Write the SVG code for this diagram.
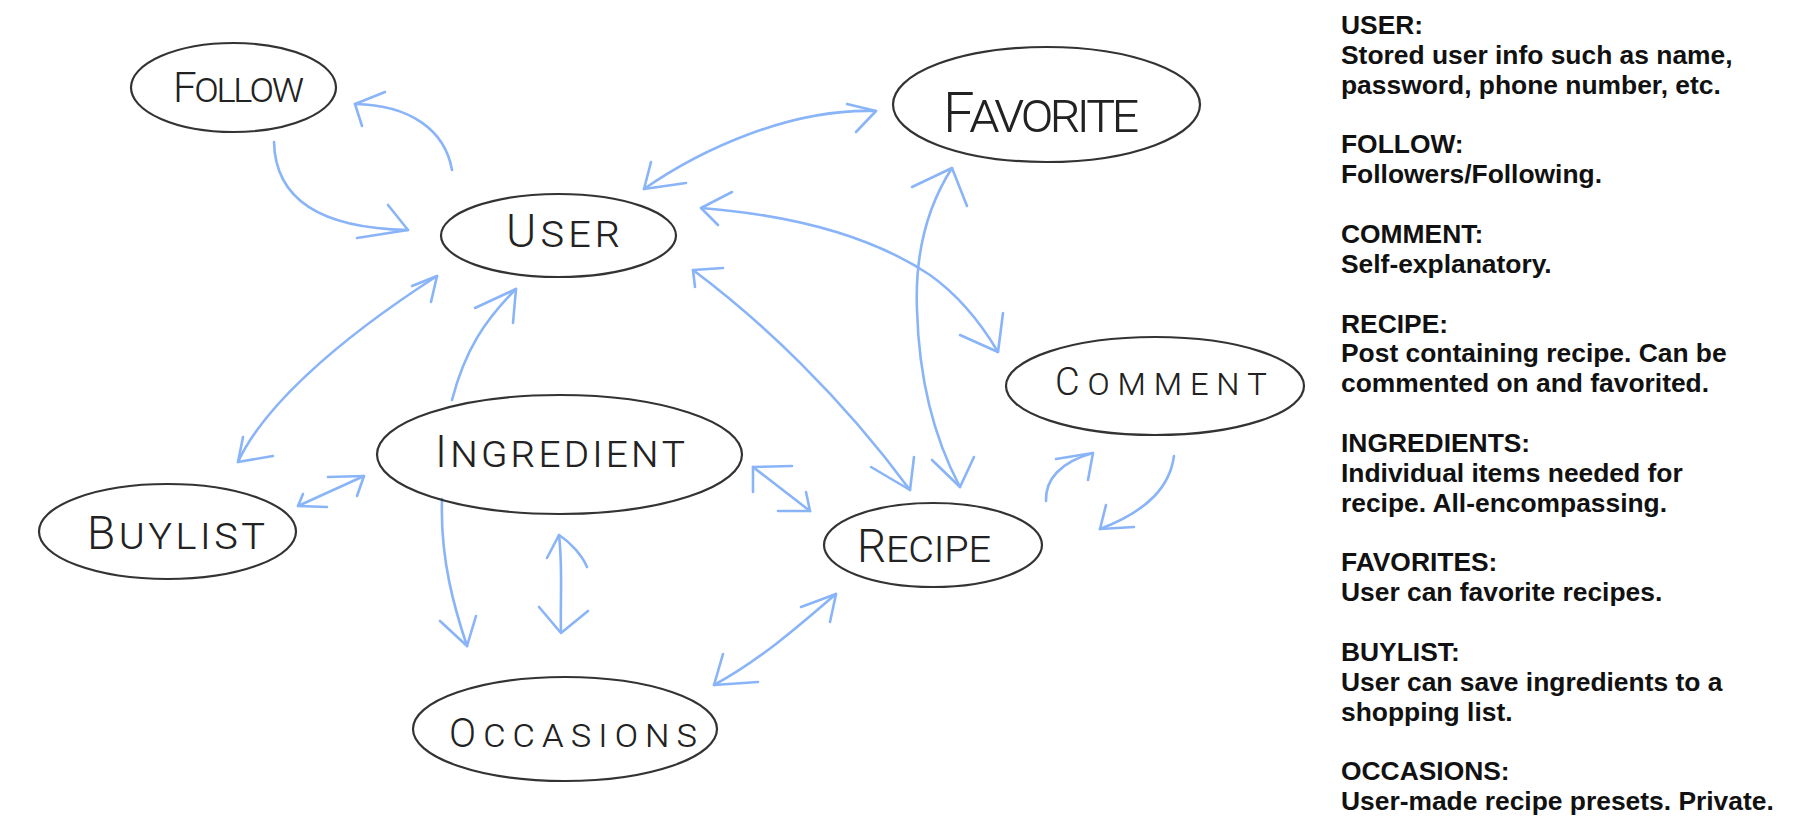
<svg xmlns="http://www.w3.org/2000/svg" width="1793" height="828" viewBox="0 0 1793 828">
<style>
  .bg { fill: #ffffff; }
  .node ellipse { fill: none; stroke: #333333; stroke-width: 2.2; }
  .lbl { font-family: "Roboto", "Open Sans", "Liberation Sans", sans-serif; font-weight: 300; font-variant: small-caps; fill: #222222; }
  .conn path { fill: none; stroke: #8ab4f8; stroke-width: 2.6; stroke-linecap: round; stroke-linejoin: round; }
  .legend text { font-family: "Liberation Sans", Arial, sans-serif; font-weight: bold; font-size: 26.4px; fill: #111111; }
</style>
<rect class="bg" x="0" y="0" width="1793" height="828"/>

<g id="connectors" class="conn">
  <!-- Follow -> User -->
  <path d="M274,142 C275,185 300,228 408,230"/>
  <path d="M388,205 L408,230 L357,238"/>
  <!-- User -> Follow -->
  <path d="M452,170 C445,130 410,105 355,104"/>
  <path d="M385,92 L355,104 L362,126"/>
  <!-- User <-> Buylist -->
  <path d="M238,462 C262,410 330,345 437,276"/>
  <path d="M243,437 L238,462 L273,456"/>
  <path d="M412,286 L437,276 L431,302"/>
  <!-- Ingredient -> User -->
  <path d="M452,400 C465,350 485,320 516,289"/>
  <path d="M475,308 L516,289 L513,323"/>
  <!-- User <-> Favorite -->
  <path d="M644,189 C700,150 790,108 876,111"/>
  <path d="M651,162 L644,189 L686,183"/>
  <path d="M847,104 L876,111 L856,132"/>
  <!-- User <-> Comment -->
  <path d="M701,208 C790,215 870,235 930,275 C965,300 985,330 998,352"/>
  <path d="M732,192 L701,208 L718,225"/>
  <path d="M960,335 L998,352 L1003,313"/>
  <!-- User <-> Recipe -->
  <path d="M693,270 C760,320 840,395 910,490"/>
  <path d="M723,268 L693,270 L695,287"/>
  <path d="M871,467 L910,490 L914,457"/>
  <!-- Favorite <-> Recipe -->
  <path d="M952,168 C925,210 915,260 917,310 C919,380 935,440 960,487"/>
  <path d="M912,187 L952,168 L967,206"/>
  <path d="M932,460 L960,487 L974,457"/>
  <!-- Buylist <-> Ingredient -->
  <path d="M298,506 L364,476"/>
  <path d="M303,494 L298,506 L327,507"/>
  <path d="M328,477 L364,476 L357,496"/>
  <!-- Ingredient <-> Recipe -->
  <path d="M753,467 L810,511"/>
  <path d="M753,492 L753,467 L792,466"/>
  <path d="M806,492 L810,511 L778,511"/>
  <!-- Ingredient -> Occasions -->
  <path d="M442,499 C440,560 455,610 467,646"/>
  <path d="M440,621 L467,646 L476,616"/>
  <!-- Ingredient <-> Occasions -->
  <path d="M559,535 C563,570 560,600 561,632"/>
  <path d="M547,558 L559,535 C570,542 582,555 587,567"/>
  <path d="M539,607 L561,633 L588,611"/>
  <!-- Recipe <-> Occasions -->
  <path d="M836,594 C800,625 760,660 714,685"/>
  <path d="M801,607 L836,594 L830,622"/>
  <path d="M723,654 L714,685 L758,682"/>
  <!-- Recipe -> Comment -->
  <path d="M1046,501 C1045,480 1060,462 1093,453"/>
  <path d="M1056,459 L1093,453 L1088,480"/>
  <!-- Comment -> Recipe -->
  <path d="M1174,456 C1170,485 1150,510 1100,529"/>
  <path d="M1106,505 L1100,529 L1134,527"/>
</g>

<g id="node-follow" class="node">
  <ellipse cx="233.5" cy="87.5" rx="102.5" ry="44.5"/>
  <text class="lbl" x="173" y="102" font-size="42" textLength="131">Follow</text>
</g>
<g id="node-user" class="node">
  <ellipse cx="558.5" cy="235.5" rx="117.5" ry="41.5"/>
  <text class="lbl" x="506" y="247" font-size="46" textLength="114">User</text>
</g>
<g id="node-favorite" class="node">
  <ellipse cx="1046.5" cy="104.5" rx="153.5" ry="57.5"/>
  <text class="lbl" x="943" y="132" font-size="56" textLength="196">Favorite</text>
</g>
<g id="node-comment" class="node">
  <ellipse cx="1155" cy="386" rx="149" ry="49"/>
  <text class="lbl" x="1055" y="395" font-size="38" textLength="212">Comment</text>
</g>
<g id="node-ingredient" class="node">
  <ellipse cx="559.5" cy="454.5" rx="182.5" ry="59.5"/>
  <text class="lbl" x="435" y="467" font-size="45" textLength="250">Ingredient</text>
</g>
<g id="node-buylist" class="node">
  <ellipse cx="167.5" cy="531.5" rx="128.5" ry="47.5"/>
  <text class="lbl" x="87" y="549" font-size="46" textLength="178">Buylist</text>
</g>
<g id="node-recipe" class="node">
  <ellipse cx="933" cy="545" rx="109" ry="42"/>
  <text class="lbl" x="857" y="562" font-size="46" textLength="134">Recipe</text>
</g>
<g id="node-occasions" class="node">
  <ellipse cx="565" cy="729" rx="152" ry="52"/>
  <text class="lbl" x="449" y="747" font-size="40" textLength="248">Occasions</text>
</g>

<g id="legend" class="legend">
  <text x="1341" y="34">USER:</text>
  <text x="1341" y="63.9">Stored user info such as name,</text>
  <text x="1341" y="93.7">password, phone number, etc.</text>
  <text x="1341" y="153.4">FOLLOW:</text>
  <text x="1341" y="183.3">Followers/Following.</text>
  <text x="1341" y="243">COMMENT:</text>
  <text x="1341" y="272.8">Self-explanatory.</text>
  <text x="1341" y="332.5">RECIPE:</text>
  <text x="1341" y="362.4">Post containing recipe. Can be</text>
  <text x="1341" y="392.2">commented on and favorited.</text>
  <text x="1341" y="451.9">INGREDIENTS:</text>
  <text x="1341" y="481.8">Individual items needed for</text>
  <text x="1341" y="511.6">recipe. All-encompassing.</text>
  <text x="1341" y="571.3">FAVORITES:</text>
  <text x="1341" y="601.2">User can favorite recipes.</text>
  <text x="1341" y="660.9">BUYLIST:</text>
  <text x="1341" y="690.7">User can save ingredients to a</text>
  <text x="1341" y="720.6">shopping list.</text>
  <text x="1341" y="780.3">OCCASIONS:</text>
  <text x="1341" y="810.1">User-made recipe presets. Private.</text>
</g>
</svg>
